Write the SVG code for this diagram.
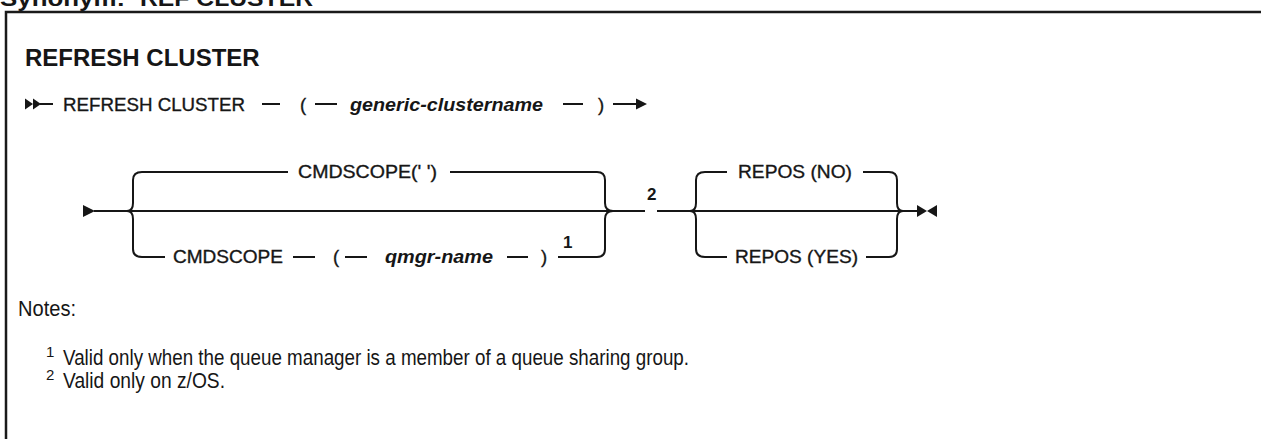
<svg xmlns="http://www.w3.org/2000/svg" width="1261" height="439" viewBox="0 0 1261 439">
<style>
.t{font-family:"Liberation Sans",Arial,sans-serif;font-size:18.5px;fill:#161616;stroke:#161616;stroke-width:0.35px}
.b{font-weight:bold;stroke:none}
.v{font-style:italic;font-weight:bold;stroke:none}
.sup{font-size:17px;font-weight:bold;stroke:none}
.n{font-family:"Liberation Sans",Arial,sans-serif;font-size:22px;fill:#161616}
.ns{font-family:"Liberation Sans",Arial,sans-serif;font-size:15px;fill:#161616}
.ln{fill:none;stroke:#161616;stroke-width:2}
.ah{fill:#161616;stroke:none}
</style>
<rect x="0" y="0" width="1261" height="439" fill="#ffffff"/>
<g id="synonym">
<text x="0" y="6" class="t b" style="font-size:22px" textLength="125" lengthAdjust="spacingAndGlyphs">Synonym:</text>
<text x="140" y="6" class="t b" style="font-size:22px" textLength="173" lengthAdjust="spacingAndGlyphs">REF CLUSTER</text>
</g>
<rect id="frame" x="6" y="12" width="1280" height="460" fill="none" stroke="#1a1a1a" stroke-width="2.5"/>
<g id="title"><text x="25" y="66" class="t b" style="font-size:24px">REFRESH CLUSTER</text></g>

<g id="connectors">
<!-- row 1 -->
<polygon class="ah" points="25,98.5 33,104 25,109.5"/>
<polygon class="ah" points="33,98.5 41,104 33,109.5"/>
<line class="ln" x1="40" y1="104" x2="53" y2="104"/>
<line class="ln" x1="262" y1="104" x2="280" y2="104"/>
<line class="ln" x1="315" y1="104" x2="337" y2="104"/>
<line class="ln" x1="563" y1="104" x2="583" y2="104"/>
<line class="ln" x1="613" y1="104" x2="638" y2="104"/>
<polygon class="ah" points="636,98.5 647,104 636,109.5"/>
<!-- row 2 -->
<polygon class="ah" points="83,205 95,211 83,217"/>
<line class="ln" x1="94" y1="211" x2="645" y2="211"/>
<line class="ln" x1="657" y1="211" x2="917" y2="211"/>
<path class="ln" d="M127,211 Q133,211 133,203 V180 Q133,172 142,172 H288"/>
<path class="ln" d="M127,211 Q133,211 133,219 V249 Q133,257 142,257 H165"/>
<path class="ln" d="M450,172 H597 Q605,172 605,180 V203 Q605,211 613,211"/>
<path class="ln" d="M558,257 H597 Q605,257 605,249 V219 Q605,211 613,211"/>
<line class="ln" x1="293" y1="257" x2="315" y2="257"/>
<line class="ln" x1="345" y1="257" x2="367" y2="257"/>
<line class="ln" x1="507" y1="257" x2="528" y2="257"/>
<path class="ln" d="M690,211 Q696,211 696,203 V180 Q696,172 705,172 H727"/>
<path class="ln" d="M690,211 Q696,211 696,219 V249 Q696,257 705,257 H727"/>
<path class="ln" d="M863,172 H889 Q897,172 897,180 V203 Q897,211 903,211"/>
<path class="ln" d="M866,257 H889 Q897,257 897,249 V219 Q897,211 903,211"/>
<polygon class="ah" points="917,205 927,211 917,217"/>
<polygon class="ah" points="937,205 927,211 937,217"/>
</g>

<g id="node-refresh"><text x="63" y="111" class="t" textLength="182" lengthAdjust="spacingAndGlyphs">REFRESH CLUSTER</text></g>
<g id="node-lparen1"><text x="300" y="111" class="t">(</text></g>
<g id="node-clustername"><text x="350" y="111" class="t v" textLength="193" lengthAdjust="spacingAndGlyphs">generic-clustername</text></g>
<g id="node-rparen1"><text x="598" y="111" class="t">)</text></g>

<g id="node-cmdscope-blank"><text x="298" y="178" class="t" textLength="139" lengthAdjust="spacingAndGlyphs">CMDSCOPE(' ')</text></g>
<g id="node-cmdscope"><text x="173" y="263" class="t" textLength="110" lengthAdjust="spacingAndGlyphs">CMDSCOPE</text></g>
<g id="node-lparen2"><text x="333" y="263" class="t">(</text></g>
<g id="node-qmgr"><text x="385" y="263" class="t v" textLength="108" lengthAdjust="spacingAndGlyphs">qmgr-name</text></g>
<g id="node-rparen2"><text x="541" y="263" class="t">)</text></g>
<g id="note-ref-1"><text x="563" y="248" class="t sup">1</text></g>
<g id="note-ref-2"><text x="647" y="200" class="t sup">2</text></g>
<g id="node-repos-no"><text x="738" y="178" class="t" textLength="114" lengthAdjust="spacingAndGlyphs">REPOS (NO)</text></g>
<g id="node-repos-yes"><text x="735" y="263" class="t" textLength="123" lengthAdjust="spacingAndGlyphs">REPOS (YES)</text></g>

<g id="notes">
<text x="18" y="316" class="n" textLength="58" lengthAdjust="spacingAndGlyphs">Notes:</text>
<text x="46" y="357" class="ns">1</text>
<text x="63" y="365" class="n" textLength="626" lengthAdjust="spacingAndGlyphs">Valid only when the queue manager is a member of a queue sharing group.</text>
<text x="46" y="380" class="ns">2</text>
<text x="63" y="388" class="n" textLength="162" lengthAdjust="spacingAndGlyphs">Valid only on z/OS.</text>
</g>
</svg>
